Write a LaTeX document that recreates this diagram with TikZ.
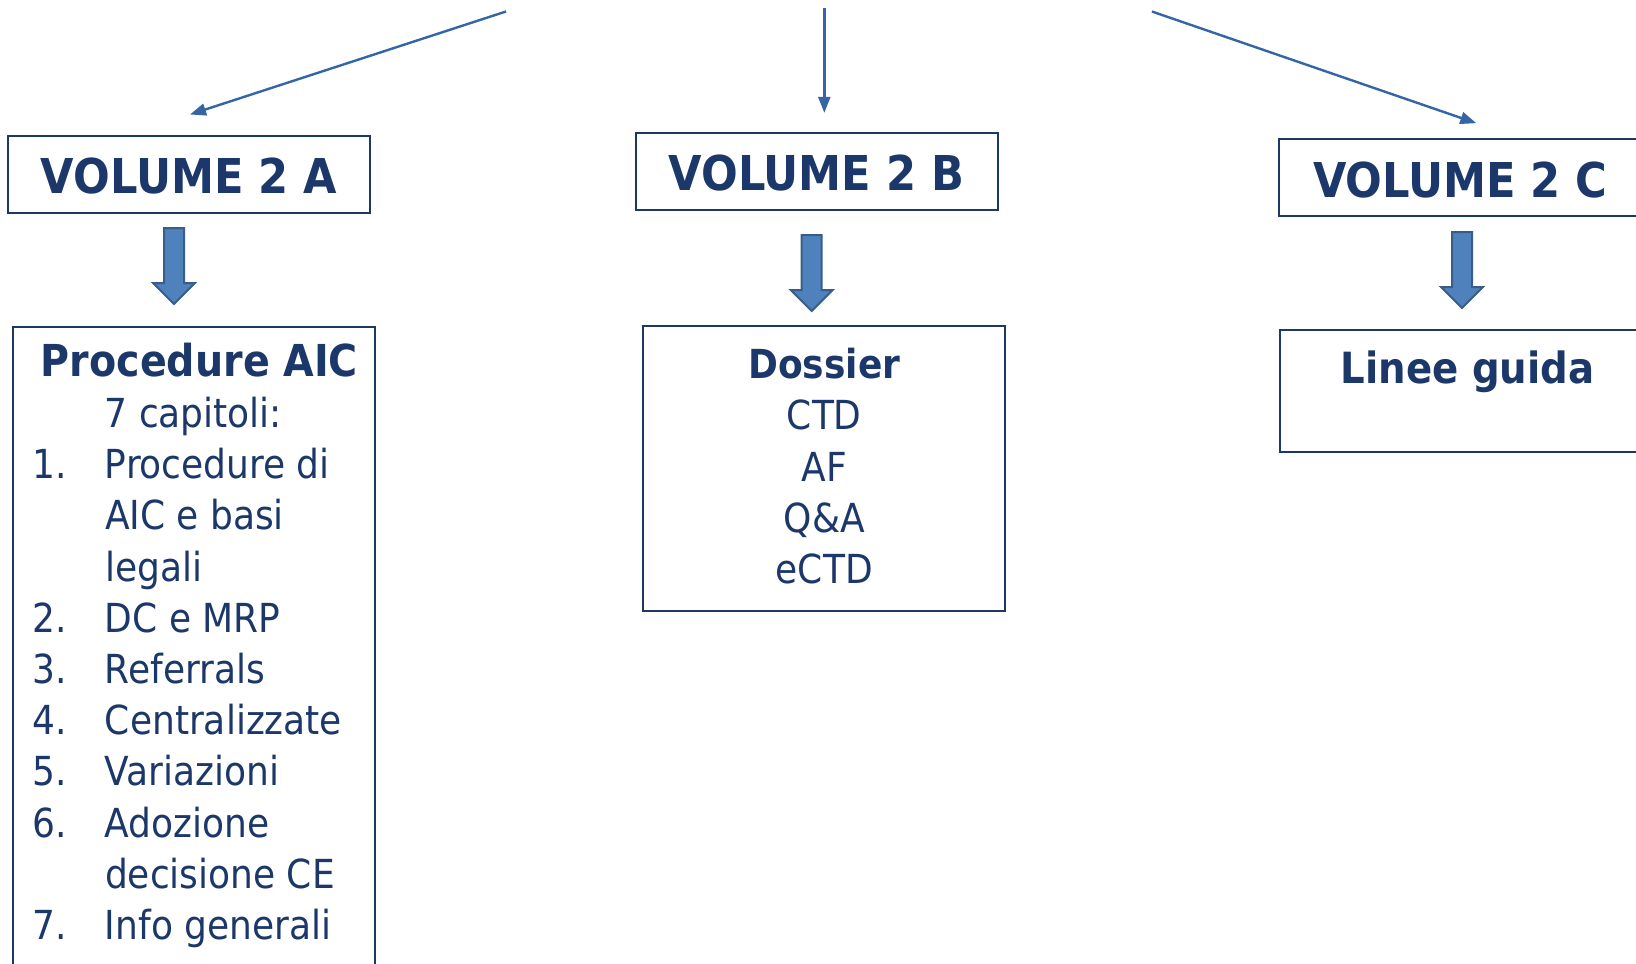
\documentclass[tikz,border=0pt]{standalone}
\usepackage{fontspec}
\setmainfont{DejaVuSansCondensed.ttf}[BoldFont=DejaVuSansCondensed-Bold.ttf]
\usepackage{tikz}
\usetikzlibrary{shapes.arrows, arrows.meta, positioning, calc}

\definecolor{navy}{RGB}{28,56,106}
\definecolor{linkblue}{RGB}{52,101,164}
\definecolor{arrowfill}{RGB}{79,129,189}
\definecolor{arrowedge}{RGB}{56,93,138}

\begin{document}
\begin{tikzpicture}[
    x=0.5pt, y=-0.5pt,
    volume/.style={
        rectangle, draw=navy, line width=1pt, text=navy,
        minimum width=181pt, inner xsep=0pt, inner ysep=0pt,
        text height=29pt, text depth=9.5pt,
        font=\fontsize{24pt}{28pt}\selectfont\bfseries
    },
    panel/.style={
        rectangle, draw=navy, line width=1pt, text=navy,
        minimum width=181pt, inner xsep=0pt, inner ysep=0pt,
        font=\fontsize{20pt}{25.6pt}\selectfont, align=center
    },
    bigarrow/.style={
        single arrow, draw=arrowedge, fill=arrowfill, line width=1pt,
        minimum height=38pt, minimum width=20pt, inner sep=4.5pt,
        single arrow head extend=5.5pt, single arrow tip angle=90,
        single arrow head indent=0pt, shape border rotate=270
    },
    link/.style={-{Triangle[length=8pt,width=6pt]}, line width=1.2pt, draw=linkblue}
]
\useasboundingbox (0,0) rectangle (1636,963);

% Volumes
\node[volume] (volA) at (189,174) {VOLUME 2 A};
\node[volume] (volB) at (816.5,171.1) {VOLUME 2 B};
\node[volume] (volC) at (1460.3,177.7) {VOLUME 2 C};

% Arrows from above
\coordinate (srcA) at (506,11.5);
\coordinate (srcB) at (824.3,8.3);
\coordinate (srcC) at (1151.9,11.5);

\draw[link] (srcA) -- ([shift={(1,-20)}]volA.north);
\draw[link] (srcB) -- ([shift={(7.8,-18.8)}]volB.north);
\draw[link] (srcC) -- ([shift={(16,-15)}]volC.north);

% Contents
\node[panel, below=56pt of volA, xshift=2.25pt, inner ysep=7pt] (proc) {%
\begin{tabular}{@{\hspace{10.1pt}}p{36.15pt}@{}p{134.75pt}@{}}
\multicolumn{2}{@{\hspace{6pt}}c@{}}{\fontsize{22pt}{25.6pt}\selectfont\bfseries Procedure AIC}\\
\multicolumn{2}{@{}c@{}}{7 capitoli:}\\
1. & Procedure di\\
   & AIC e basi\\
   & legali\\
2. & DC e MRP\\
3. & Referrals\\
4. & Centralizzate\\
5. & Variazioni\\
6. & Adozione\\
   & decisione CE\\
7. & Info generali
\end{tabular}};

\node[panel, below=57.4pt of volB, xshift=3.9pt, minimum height=142.4pt] (dossier)
    {\textbf{Dossier}\\CTD\\AF\\Q\&A\\eCTD\\[-22.6pt]\mbox{}};

\node[panel, below=55.8pt of volC, xshift=3.6pt, minimum width=187.5pt,
    text height=27pt, text depth=34pt,
    font=\fontsize{21.5pt}{25.6pt}\selectfont\bfseries] (linee) {Linee guida};

% Block arrows
\node[bigarrow] (downA) at (174,261) {};
\node[bigarrow] (downB) at (811.7,268) {};
\node[bigarrow] (downC) at (1462,265) {};

\end{tikzpicture}
\end{document}
